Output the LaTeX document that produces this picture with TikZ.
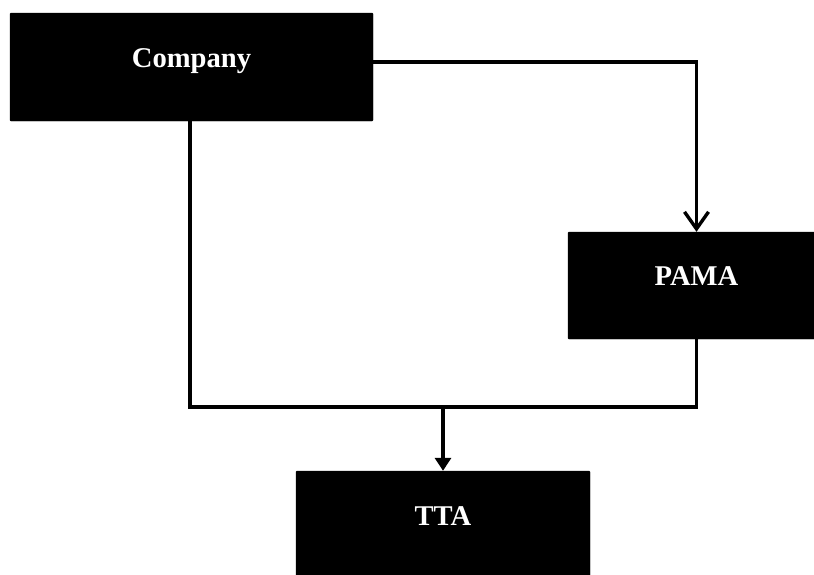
\documentclass[tikz,border=0pt]{standalone}
\usepackage{fontspec}
\setmainfont{Liberation Serif}
\usetikzlibrary{arrows.meta}
\tikzset{
  box/.style={fill=black, draw=black, rounded corners=1pt, inner sep=0pt},
  lbl/.style={text=white, font=\bfseries\fontsize{28.6}{34}\selectfont, inner sep=0pt, anchor=base},
  conn/.style={line width=3.4pt, line join=miter},
}
\begin{document}
\begin{tikzpicture}[x=1pt,y=-1pt]
\useasboundingbox (0,0) rectangle (814,574);
\node[box, minimum width=363pt, minimum height=108pt] (Company) at (191.5,67) {};
\node[box, minimum width=257pt, minimum height=107pt] (PAMA) at (696.5,285.5) {};
\node[box, minimum width=294pt, minimum height=108pt] (TTA) at (443,525) {};
\node[lbl] (tCompany) at (Company.center) {Company};
\node[lbl] (tPAMA) at (PAMA.center) {PAMA};
\node[lbl] (tTTA) at (TTA.center) {TTA};
\coordinate (j) at (443,407);
\draw[conn, -{Straight Barb[length=17pt,width=24pt,line width=3.4pt]}] ([yshift=5pt]Company.east) -| (PAMA.north);
\draw[conn] ([xshift=-1.5pt]Company.south) |- (PAMA.south |- j) -- (PAMA.south);
\draw[conn, -{Triangle[length=13pt,width=16pt]}] (j) -- (TTA.north);
\end{tikzpicture}
\end{document}
